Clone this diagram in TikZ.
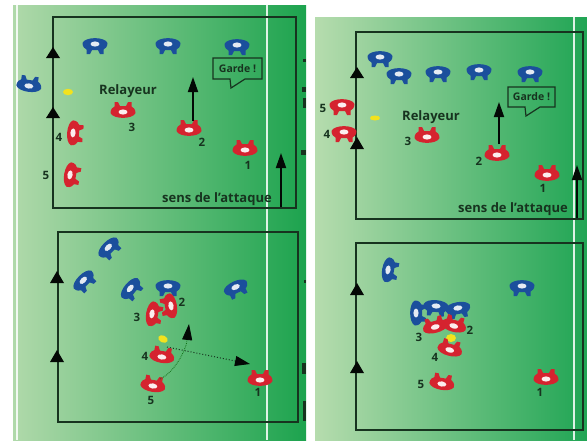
\documentclass[tikz,border=0pt]{standalone}
\usepackage{fontspec}
\setmainfont{Open Sans}
\usetikzlibrary{arrows.meta}
\definecolor{ink}{HTML}{17331F}
\definecolor{teamred}{HTML}{D5232F}
\definecolor{teamblue}{HTML}{1B4F9C}
\definecolor{ballyellow}{HTML}{F2E21E}
\newcommand{\playerbody}[2]{%
  \fill[#1] (-12.5,2) .. controls (-12.5,-2) and (-10,-4) .. (-8.5,-4.5) -- (-8.5,-9) -- (-5,-9) -- (-3,-5)
    -- (3,-5) -- (5,-9) -- (8.5,-9) -- (8.5,-4.5) .. controls (10,-4) and (12.5,-2) .. (12.5,2)
    .. controls (10,8.5) and (-10,8.5) .. (-12.5,2) -- cycle;
  \fill[#2] (0,1) ellipse [x radius=4.5,y radius=2.6];}
\tikzset{
  redplayer/.pic={\playerbody{teamred}{white!92!teamred}},
  blueplayer/.pic={\playerbody{teamblue}{white!88!teamblue}},
  num/.style={font=\bfseries\fontsize{11.5}{12}\selectfont,text=ink,inner sep=0pt},
  word/.style={font=\bfseries\fontsize{13}{14}\selectfont,text=ink,inner sep=0pt},
  bubbletext/.style={font=\bfseries\fontsize{10.5}{11}\selectfont,text=ink,inner sep=0pt},
  fieldbox/.style={draw=ink,line width=1.6pt},
  bubble/.style={draw=ink,line width=1.2pt},
  bigarrow/.style={draw=black!85!ink,line width=1.8pt,-{Triangle[length=15pt,width=10pt]}},
  passarrow/.style={draw=ink,line width=1pt,dotted,-{Triangle[length=15pt,width=10pt,color=black!85!ink,fill=black!85!ink]}},
  runarrow/.style={draw=ink!70!green,line width=.8pt,densely dotted,-{Triangle[length=16pt,width=10pt,color=black!85!ink,fill=black!85!ink]}},
  sideline/.style={draw=white,line width=1.5pt,opacity=.85},
}
\newcommand{\sidetri}[3]{\fill[black!85!ink] (#1-7,#3) -- (#1,#2) -- (#1+7,#3) -- cycle;}
\newcommand{\garde}[4]{% left, top, right, bottom
  \draw[bubble] (#1,#2) -- (#3,#2) -- (#3,#4) -- (#1+32,#4) -- (#1+18,#4+9) -- (#1+17,#4) -- (#1,#4) -- cycle;
  \node[bubbletext] at ({(#1+#3)/2},{(#2+#4)/2}) {Garde !};}
\begin{document}
\begin{tikzpicture}[x=1pt,y=-1pt]
\useasboundingbox (0,0) rectangle (587,440);
% backgrounds
\shade[left color={rgb,255:red,176;green,217;blue,170},middle color={rgb,255:red,110;green,188;blue,124},right color={rgb,255:red,28;green,163;blue,78}] (13,5) rectangle (306,440);
\shade[left color={rgb,255:red,182;green,220;blue,174},middle color={rgb,255:red,112;green,190;blue,126},right color={rgb,255:red,32;green,165;blue,84}] (315,17) rectangle (587,440);
\draw[sideline] (17,5) -- (17,440);
\draw[sideline] (267,5) -- (267,440);
\draw[sideline] (574,17) -- (574,440);
% edge marks
\fill[ink] (303,59) rectangle (306,62);
\fill[ink] (302,87) rectangle (306,92);
\fill[ink] (303,98) rectangle (306,108);
\fill[ink] (301,150) rectangle (306,155);
\fill[ink] (304,280) rectangle (306,283);
\fill[ink] (302,363) rectangle (306,374);
\fill[ink] (303,401) rectangle (306,421);

%%%% top left
\draw[fieldbox] (53,17) rectangle (296,208);
\sidetri{53}{47}{58}\sidetri{53}{107}{118}
\pic at (95,45) [rotate=180] {blueplayer};
\pic at (168,45) [rotate=180] {blueplayer};
\pic at (237,46) [rotate=180] {blueplayer};
\pic at (29,85) [rotate=-8] {blueplayer};
\fill[ballyellow] (68,92) ellipse [x radius=5,y radius=3.2];
\pic at (123,111) {redplayer};
\pic at (189,129) {redplayer};
\pic at (245,149) {redplayer};
\pic at (74,133) [rotate=-95] {redplayer};
\pic at (71,175) [rotate=-100] {redplayer};
\node[word] (tlrel) at (128,91) {Relayeur};
\node[num] (tl3) at (132,127) {3};
\node[num] (tl2) at (202,142) {2};
\node[num] (tl1) at (248,165) {1};
\node[num] (tl4) at (59,137) {4};
\node[num] (tl5) at (46,175) {5};
\coordinate (tla1) at (193,121); \coordinate (tla2) at (193,77);
\draw[bigarrow] (tla1) -- (tla2);
\coordinate (tls1) at (281,207); \coordinate (tls2) at (281,153);
\draw[bigarrow] (tls1) -- (tls2);
\node[word] (tlsens) at (217,199) {sens de l'attaque};
\garde{213}{58}{262}{79}

%%%% bottom left
\draw[fieldbox] (58,232) rectangle (298,422);
\sidetri{57}{271}{283}\sidetri{57}{350}{362}
\pic at (109,248) [rotate=-135] {blueplayer};
\pic at (84,281) [rotate=-135] {blueplayer};
\pic at (131,289) [rotate=-130] {blueplayer};
\pic at (168,287) [rotate=180] {blueplayer};
\pic at (236,288) [rotate=-155] {blueplayer};
\pic at (153,314) [rotate=-100] {redplayer};
\pic at (170,306) [rotate=100] {redplayer};
\pic at (162,356) [rotate=-10] {redplayer};
\pic at (153,385) [rotate=-10] {redplayer};
\pic at (260,379) {redplayer};
\fill[ballyellow,rotate around={-25:(163,339)}] (163,339) ellipse [x radius=5,y radius=3.5];
\node[num] (bl2) at (182,302) {2};
\node[num] (bl3) at (137,317) {3};
\node[num] (bl4) at (145,356) {4};
\node[num] (bl5) at (151,400) {5};
\node[num] (bl1) at (258,392) {1};
\coordinate (blp1) at (167,347); \coordinate (blp2) at (250,364);
\draw[passarrow] (blp1) -- (blp2);
\coordinate (blr1) at (160,379); \coordinate (blr2) at (189,324);
\draw[runarrow] (blr1) .. controls (175,372) and (186,350) .. (blr2);

%%%% top right
\draw[fieldbox] (356,32) rectangle (583,219);
\sidetri{357}{67}{78}\sidetri{357}{137}{149}
\pic at (380,58) [rotate=180] {blueplayer};
\pic at (399,75) [rotate=180] {blueplayer};
\pic at (438,73) [rotate=180] {blueplayer};
\pic at (479,71) [rotate=180] {blueplayer};
\pic at (530,73) [rotate=180] {blueplayer};
\pic at (342,106) [rotate=180] {redplayer};
\pic at (344,133) [rotate=180] {redplayer};
\pic at (427,136) {redplayer};
\pic at (497,154) {redplayer};
\pic at (547,174) {redplayer};
\fill[ballyellow] (375,118) ellipse [x radius=5,y radius=2.5];
\node[word] (trrel) at (431,117) {Relayeur};
\node[num] (tr3) at (408,141) {3};
\node[num] (tr2) at (479,161) {2};
\node[num] (tr1) at (543,188) {1};
\node[num] (tr4) at (327,134) {4};
\node[num] (tr5) at (323,108) {5};
\coordinate (tra1) at (499,144); \coordinate (tra2) at (499,102);
\draw[bigarrow] (tra1) -- (tra2);
\coordinate (trs1) at (577,218); \coordinate (trs2) at (577,165);
\draw[bigarrow] (trs1) -- (trs2);
\node[word] (trsens) at (513,209) {sens de l'attaque};
\garde{508}{87}{555}{107}

%%%% bottom right
\draw[fieldbox] (356,243) rectangle (583,430);
\sidetri{357}{283}{295}\sidetri{357}{361}{373}
\pic at (389,270) [rotate=-100] {blueplayer};
\pic at (522,287) [rotate=180] {blueplayer};
\pic at (417,313) [rotate=-90] {blueplayer};
\pic at (436,307) [rotate=175] {blueplayer};
\pic at (458,309) [rotate=190] {blueplayer};
\pic at (435,326) [rotate=15] {redplayer};
\pic at (454,325) [rotate=-15] {redplayer};
\fill[ballyellow] (451,338) ellipse [x radius=5,y radius=4];
\pic at (450,349) [rotate=-15] {redplayer};
\pic at (442,383) [rotate=-10] {redplayer};
\pic at (546,378) {redplayer};
\node[num] (br3) at (419,337) {3};
\node[num] (br2) at (470,330) {2};
\node[num] (br4) at (435,357) {4};
\node[num] (br5) at (421,384) {5};
\node[num] (br1) at (540,392) {1};
\end{tikzpicture}
\end{document}
